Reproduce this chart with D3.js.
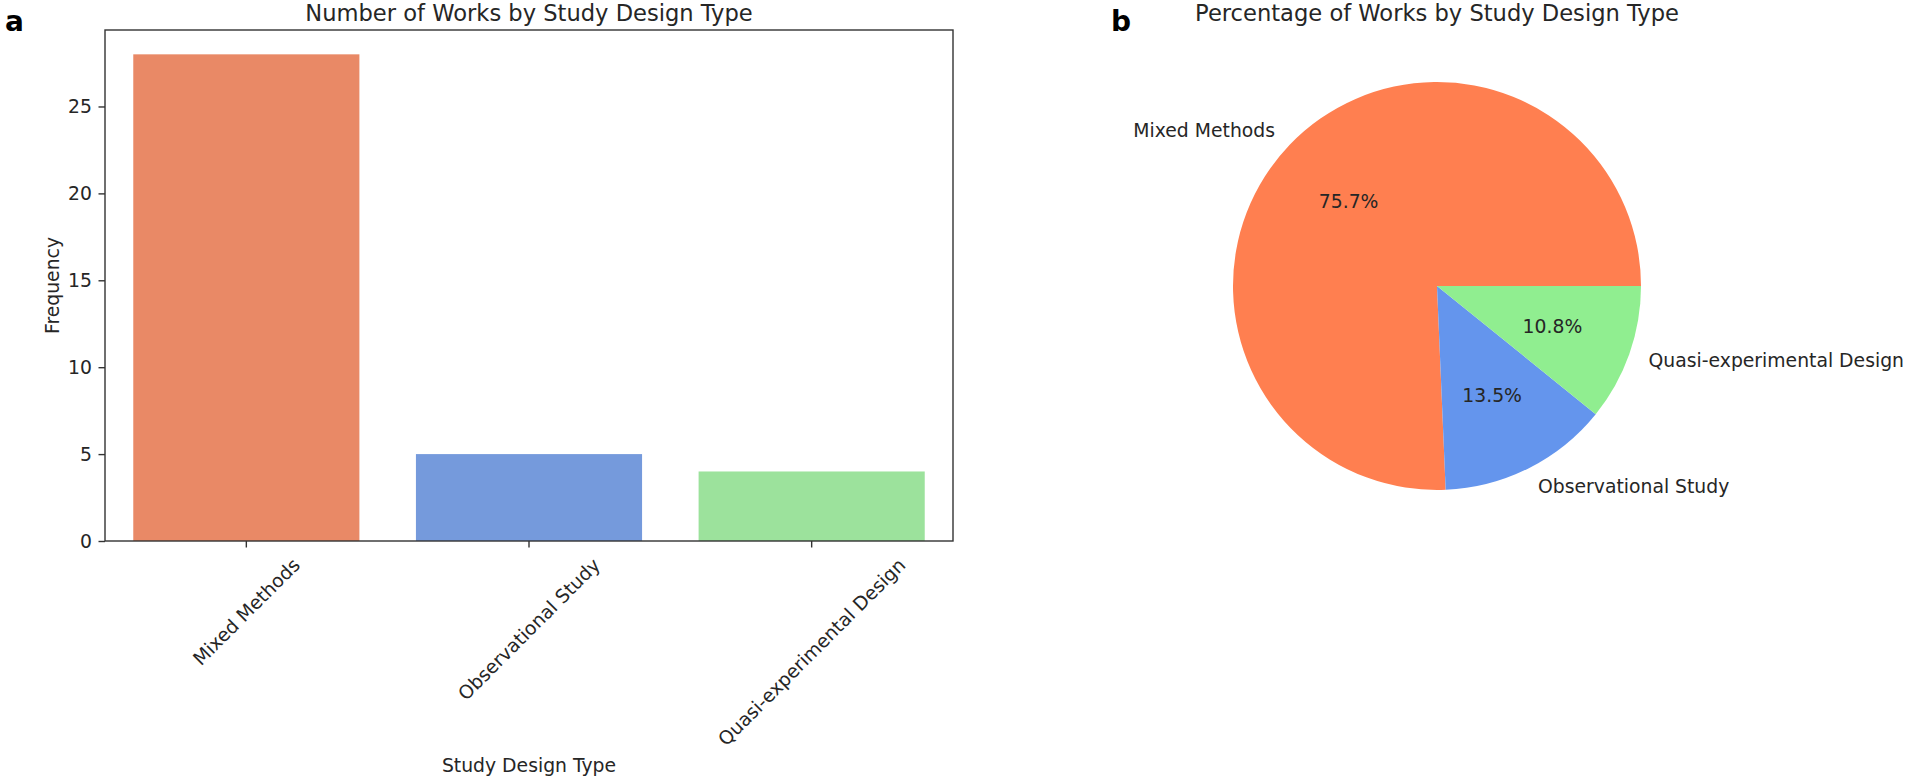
<!DOCTYPE html>
<html>
<head>
<meta charset="utf-8">
<script src="https://cdn.jsdelivr.net/npm/d3@7"></script>
<style>
  body { margin: 0; background: #fff; }
  svg text { font-family: "DejaVu Sans", sans-serif; fill: #262626; }
  .tick line { stroke: #333; stroke-width: 1.4; }
  .tick text { font-size: 18.8px; }
</style>
</head>
<body>
<script>
// Chart data
var categories = ["Mixed Methods", "Observational Study", "Quasi-experimental Design"];
var counts = [28, 5, 4];
var yTicks = [0, 5, 10, 15, 20, 25];
var barColors = ["#e98966", "#759adc", "#9ce29c"];
var pieColors = ["#ff7f50", "#6495ed", "#90ee90"];

var width = 1907,
    height = 779;

var labelSize = 18.8,
    titleSize = 22.6;

var svg = d3.select("body")
    .append("svg")
    .attr("width", width)
    .attr("height", height);

// ---- panel a: bar chart ----
var box = { left: 105, right: 953, top: 30, bottom: 541 };

var x = d3.scaleBand()
    .domain(categories)
    .range([box.left, box.right])
    .paddingInner(0.2)
    .paddingOuter(0.1);

var y = d3.scaleLinear()
    .domain([0, d3.max(counts) * 1.05])
    .range([box.bottom, box.top]);

var gBar = svg.append("g");

gBar.selectAll("rect.bar")
    .data(categories)
    .enter()
    .append("rect")
    .attr("class", "bar")
    .attr("x", function (d) { return x(d); })
    .attr("width", x.bandwidth())
    .attr("y", function (d, i) { return y(counts[i]); })
    .attr("height", function (d, i) { return y(0) - y(counts[i]); })
    .attr("fill", function (d, i) { return barColors[i]; });

// y axis
var yAxis = gBar.append("g")
    .attr("transform", "translate(" + box.left + ",0)")
    .call(d3.axisLeft(y).tickValues(yTicks).tickSize(6.5).tickPadding(6.5));
yAxis.select(".domain").remove();

// x axis with 45 degree labels
var xAxis = gBar.append("g")
    .attr("transform", "translate(0," + box.bottom + ")")
    .call(d3.axisBottom(x).tickSize(6.5).tickPadding(6.5));
xAxis.select(".domain").remove();

xAxis.selectAll(".tick text").each(function () {
    var t = d3.select(this);
    var w = this.getComputedTextLength();
    var h = (w + labelSize * 1.15) * Math.SQRT1_2;
    t.attr("y", null)
     .attr("dy", "0.35em")
     .attr("text-anchor", "middle")
     .attr("transform", "translate(0," + (13 + h / 2) + ") rotate(-45)");
});

// frame
gBar.append("rect")
    .attr("x", box.left)
    .attr("y", box.top)
    .attr("width", box.right - box.left)
    .attr("height", box.bottom - box.top)
    .attr("fill", "none")
    .attr("stroke", "#333")
    .attr("stroke-width", 1.4);

gBar.append("text")
    .attr("x", (box.left + box.right) / 2)
    .attr("y", 21)
    .attr("text-anchor", "middle")
    .style("font-size", titleSize + "px")
    .text("Number of Works by Study Design Type");

gBar.append("text")
    .attr("transform", "translate(59," + (box.top + box.bottom) / 2 + ") rotate(-90)")
    .attr("text-anchor", "middle")
    .style("font-size", labelSize + "px")
    .text("Frequency");

gBar.append("text")
    .attr("x", (box.left + box.right) / 2)
    .attr("y", 772)
    .attr("text-anchor", "middle")
    .style("font-size", labelSize + "px")
    .text("Study Design Type");

svg.append("text")
    .attr("x", 5)
    .attr("y", 31)
    .style("font-size", "28px")
    .style("font-weight", "bold")
    .style("fill", "#000")
    .text("a");

// ---- panel b: pie chart ----
var cx = 1437, cy = 286, r = 204;
var total = d3.sum(counts);

var pie = d3.pie()
    .sort(null)
    .startAngle(Math.PI / 2)
    .endAngle(Math.PI / 2 - 2 * Math.PI);

var arc = d3.arc().innerRadius(0).outerRadius(r);

var gPie = svg.append("g")
    .attr("transform", "translate(" + cx + "," + cy + ")");

var slices = pie(counts);

gPie.selectAll("path")
    .data(slices)
    .enter()
    .append("path")
    .attr("d", arc)
    .attr("fill", function (d, i) { return pieColors[i]; });

function mid(d) { return (d.startAngle + d.endAngle) / 2; }

// category labels at 1.1 r
gPie.selectAll("text.lbl")
    .data(slices)
    .enter()
    .append("text")
    .attr("class", "lbl")
    .attr("x", function (d) { return Math.sin(mid(d)) * r * 1.1; })
    .attr("y", function (d) { return -Math.cos(mid(d)) * r * 1.1; })
    .attr("dy", "0.35em")
    .attr("text-anchor", function (d) { return Math.sin(mid(d)) > 0 ? "start" : "end"; })
    .style("font-size", labelSize + "px")
    .text(function (d, i) { return categories[i]; });

// percentage labels at 0.6 r
gPie.selectAll("text.pct")
    .data(slices)
    .enter()
    .append("text")
    .attr("class", "pct")
    .attr("x", function (d) { return Math.sin(mid(d)) * r * 0.6; })
    .attr("y", function (d) { return -Math.cos(mid(d)) * r * 0.6; })
    .attr("dy", "0.35em")
    .attr("text-anchor", "middle")
    .style("font-size", labelSize + "px")
    .text(function (d) { return (d.value / total * 100).toFixed(1) + "%"; });

svg.append("text")
    .attr("x", cx)
    .attr("y", 21)
    .attr("text-anchor", "middle")
    .style("font-size", titleSize + "px")
    .text("Percentage of Works by Study Design Type");

svg.append("text")
    .attr("x", 1111)
    .attr("y", 31)
    .style("font-size", "28px")
    .style("font-weight", "bold")
    .style("fill", "#000")
    .text("b");
</script>
</body>
</html>
